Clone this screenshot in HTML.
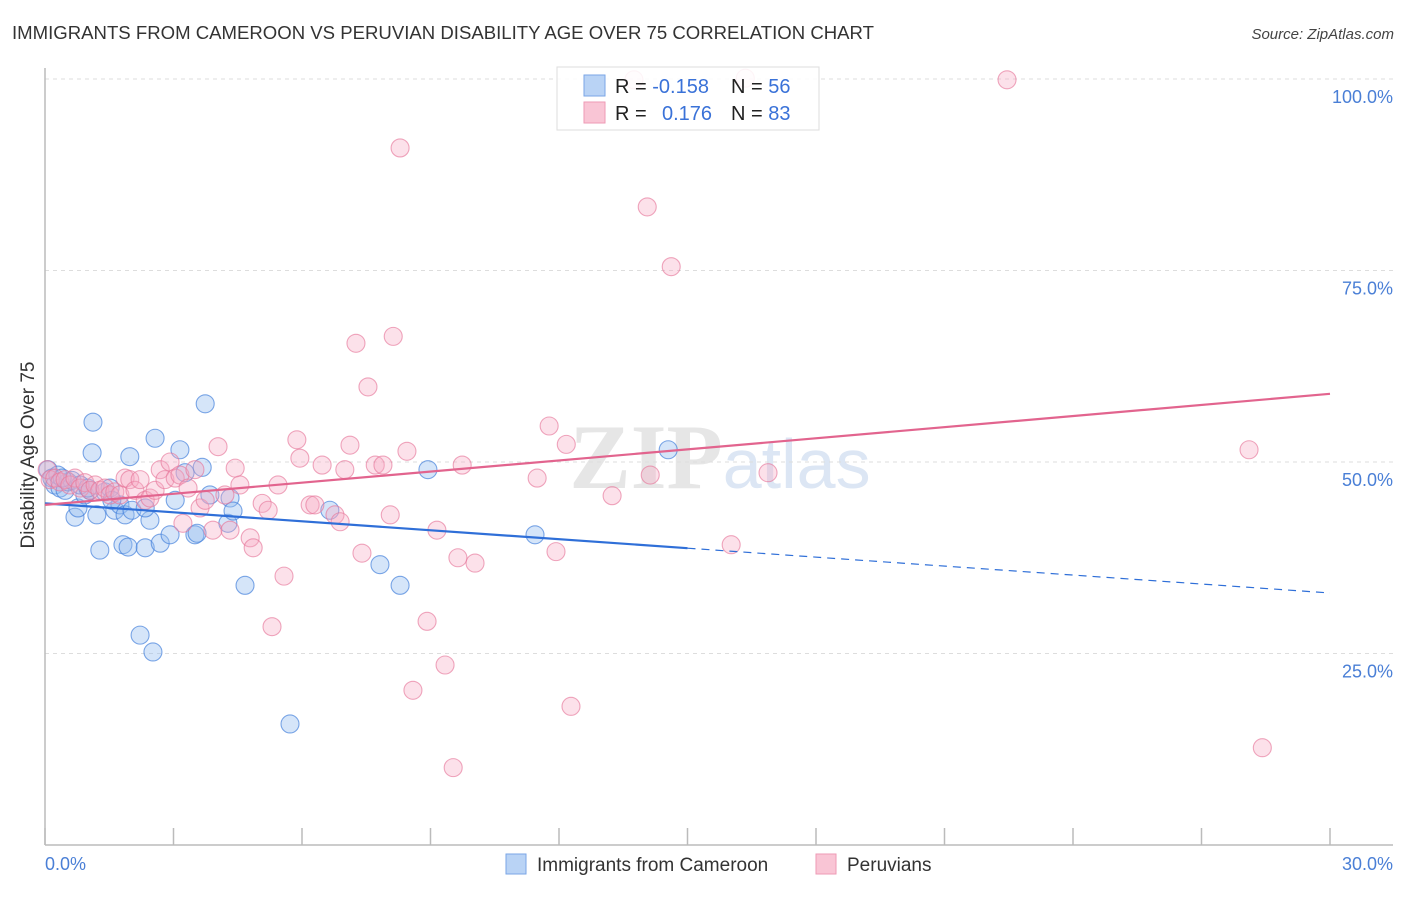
<!DOCTYPE html>
<html><head><meta charset="utf-8"><style>
body{margin:0;background:#fff;font-family:"Liberation Sans",sans-serif}
</style></head><body>
<svg width="1406" height="892" xmlns="http://www.w3.org/2000/svg" font-family="Liberation Sans, sans-serif">
<text x="12" y="39" font-size="18" fill="#333" textLength="862" lengthAdjust="spacingAndGlyphs">IMMIGRANTS FROM CAMEROON VS PERUVIAN DISABILITY AGE OVER 75 CORRELATION CHART</text>
<text x="1394" y="39" font-size="15" fill="#444" font-style="italic" text-anchor="end">Source: ZipAtlas.com</text>
<text x="720" y="488" font-size="92" fill="#e6e6e6" text-anchor="middle" font-family="Liberation Serif, serif" font-weight="bold">ZIP<tspan fill="#dce6f4" font-family="Liberation Sans, sans-serif" font-weight="normal" font-size="70">atlas</tspan></text>
<g id="grid"></g>
<g id="axes"></g>
<g id="pts"></g>
<g id="lines"></g>
<text transform="translate(34,455) rotate(-90)" font-size="19" fill="#333" text-anchor="middle">Disability Age Over 75</text>
<text x="45" y="870" font-size="18" fill="#4a7fd6">0.0%</text>
<text x="1393" y="870" font-size="18" fill="#4a7fd6" text-anchor="end">30.0%</text>
<g>
<rect x="557" y="67" width="262" height="63" fill="#fff" fill-opacity="0.88" stroke="#ddd"/>
<rect x="584" y="75" width="21" height="21" fill="#b9d3f5" stroke="#7aa6e6"/>
<rect x="584" y="102" width="21" height="21" fill="#f9c5d5" stroke="#ee9ab5"/>
<text x="615" y="93" font-size="20" fill="#222">R = <tspan fill="#3a72d8">-0.158</tspan></text>
<text x="731" y="93" font-size="20" fill="#222">N = <tspan fill="#3a72d8">56</tspan></text>
<text x="615" y="120" font-size="20" fill="#222">R = <tspan fill="#3a72d8" x="662">0.176</tspan></text>
<text x="731" y="120" font-size="20" fill="#222">N = <tspan fill="#3a72d8">83</tspan></text>
</g>
<g>
<rect x="506" y="854" width="20" height="20" fill="#b9d3f5" stroke="#7aa6e6"/>
<text x="537" y="871" font-size="19" fill="#333">Immigrants from Cameroon</text>
<rect x="816" y="854" width="20" height="20" fill="#f9c5d5" stroke="#ee9ab5"/>
<text x="847" y="871" font-size="19" fill="#333">Peruvians</text>
</g>
</svg>
<script>
const yTicks=[100,75,50,25];
const yTickLabels=["100.0%","75.0%","50.0%","25.0%"];
const blueX=[0.07,0.16,0.23,0.35,0.47,0.54,0.63,0.70,0.77,0.93,1.05,1.10,1.12,1.21,1.28,1.40,1.52,1.63,1.75,1.82,1.87,1.94,1.98,2.03,2.22,2.34,2.45,2.52,2.57,2.69,2.92,3.04,3.15,3.27,3.50,3.55,3.67,3.74,3.85,4.27,4.32,4.39,4.67,5.72,6.65,7.82,8.29,8.94,11.44,14.55,0.30,0.82,1.56,2.34,0.40,1.00];
const blueY=[49.0,47.9,47.0,46.6,46.3,47.4,47.6,42.8,44.0,45.7,46.3,51.2,55.2,43.1,38.5,46.1,46.6,43.7,44.4,39.2,43.1,38.9,50.7,43.7,27.4,38.8,42.4,25.2,53.1,39.4,40.5,45.0,51.6,48.6,40.5,40.7,49.3,57.6,45.7,42.0,45.3,43.6,33.9,15.8,43.7,36.6,33.9,49.0,40.5,51.6,48.3,47.0,45.0,44.0,47.9,46.6];
const pinkX=[0.05,0.12,0.23,0.35,0.47,0.58,0.70,0.82,0.93,1.05,1.17,1.28,1.40,1.52,1.63,1.75,1.87,1.98,2.10,2.22,2.34,2.45,2.57,2.69,2.80,2.92,3.04,3.15,3.22,3.34,3.50,3.62,3.74,3.92,4.04,4.20,4.32,4.44,4.55,4.79,4.86,5.07,5.21,5.44,5.58,5.30,5.88,5.95,6.19,6.30,6.47,6.77,6.89,7.00,7.12,7.26,7.40,7.54,7.71,7.89,8.06,8.13,8.29,8.45,8.59,8.92,9.15,9.34,9.53,9.64,9.74,10.04,11.49,11.77,11.93,12.17,12.28,13.24,13.75,14.06,14.13,14.62,16.02,16.88,22.46,28.11,28.42,16.35];
const pinkY=[49.0,47.7,47.9,47.4,47.7,47.0,47.9,46.6,47.3,46.3,47.0,46.3,46.6,45.7,46.1,45.7,47.9,47.7,46.3,47.7,45.0,45.3,46.3,49.0,47.7,50.0,47.9,48.3,42.0,46.6,49.0,44.0,45.0,41.1,52.0,45.7,41.1,49.2,47.0,40.1,38.8,44.6,43.7,47.0,35.1,28.5,52.9,50.5,44.4,44.4,49.6,43.1,42.2,49.0,52.2,65.5,38.1,59.8,49.6,49.6,43.1,66.4,91.0,51.4,20.2,29.2,41.1,23.5,10.1,37.5,49.6,36.8,47.9,54.7,38.3,52.3,18.1,45.6,99.9,83.3,48.3,75.5,39.2,48.6,99.9,51.6,12.7,100.1];
const blueTrend=[44.6,32.9];
const pinkTrend=[44.4,58.9];
const blueSolidEnd=15;

const NS="http://www.w3.org/2000/svg";
const X=v=>45+v/30*1285;
const Y=v=>845-v/100*766;
function mk(tag,attrs,parent){const e=document.createElementNS(NS,tag);for(const k in attrs)e.setAttribute(k,attrs[k]);document.getElementById(parent).appendChild(e);return e;}

yTicks.forEach((t,i)=>{
  const l=mk('line',{x1:45,x2:1393,y1:Y(t),y2:Y(t),stroke:'#ddd','stroke-dasharray':'4,4'},'grid');
  
  
  const tx=mk('text',{x:1393,y:Y(t)+24,'font-size':18,fill:'#4a7fd6','text-anchor':'end'},'grid');
  tx.textContent=yTickLabels[i];
  
  
});
const ya=mk('line',{x1:45,x2:45,y1:68,y2:845,stroke:'#bbb','stroke-width':1.5},'axes');


const xa=mk('line',{x1:45,x2:1393,y1:845,y2:845,stroke:'#bbb','stroke-width':1.5},'axes');


for(let i=0;i<=10;i++){
  const t=mk('line',{x1:X(i*3),x2:X(i*3),y1:828,y2:845,stroke:'#bbb','stroke-width':1.5},'axes');
  
  
}
blueX.forEach((v,i)=>{
  const c=mk('circle',{cx:X(v),cy:Y(blueY[i]),r:9,fill:'rgba(150,190,240,0.4)',stroke:'rgba(70,130,220,0.7)','stroke-width':1.1},'pts');
  
  
});
pinkX.forEach((v,i)=>{
  const c=mk('circle',{cx:X(v),cy:Y(pinkY[i]),r:9,fill:'rgba(245,170,195,0.35)',stroke:'rgba(230,120,155,0.65)','stroke-width':1.1},'pts');
  
  
});
const bAt=x=>blueTrend[0]+(blueTrend[1]-blueTrend[0])*x/30;
const b1=mk('line',{x1:X(0),y1:Y(bAt(0)),x2:X(blueSolidEnd),y2:Y(bAt(blueSolidEnd)),stroke:'#2f6fd8','stroke-width':2.2},'lines');


const b2=mk('line',{x1:X(blueSolidEnd),y1:Y(bAt(blueSolidEnd)),x2:X(30),y2:Y(bAt(30)),stroke:'#2f6fd8','stroke-width':1.2,'stroke-dasharray':'8,6'},'lines');


const p1=mk('line',{x1:X(0),y1:Y(pinkTrend[0]),x2:X(30),y2:Y(pinkTrend[1]),stroke:'#e2648e','stroke-width':2.2},'lines');


</script>
</body></html>
